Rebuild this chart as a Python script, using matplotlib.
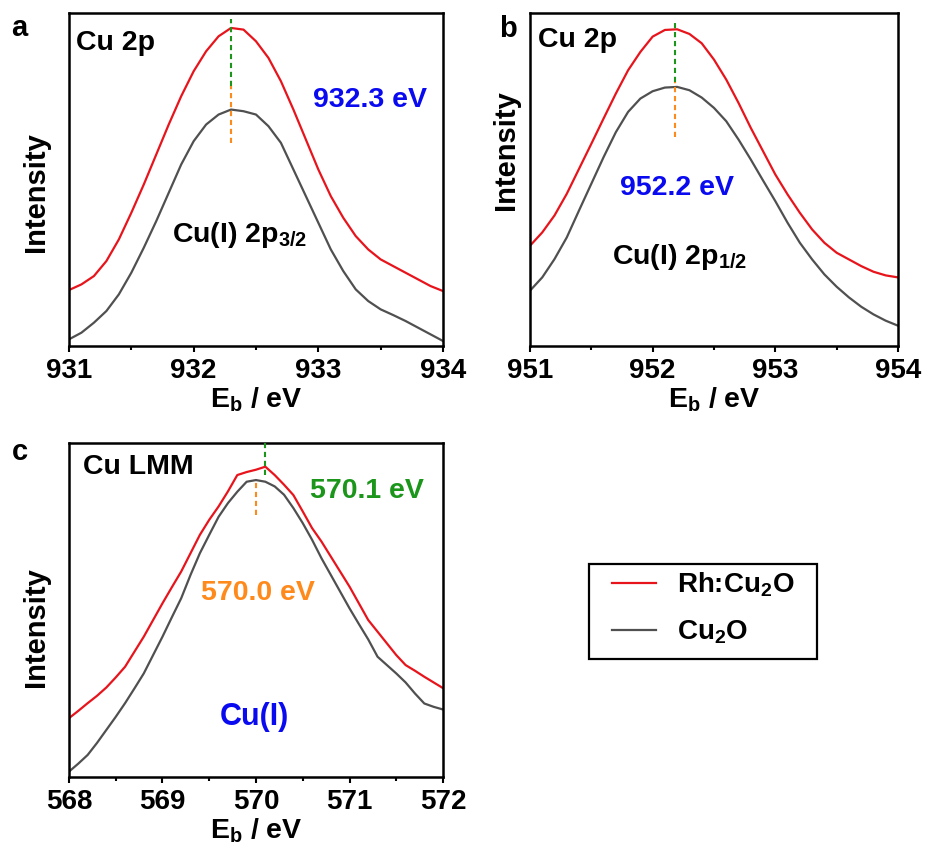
import numpy as np
import matplotlib
matplotlib.use('Agg')
import matplotlib.pyplot as plt
from matplotlib.ticker import MultipleLocator
from matplotlib.lines import Line2D
from matplotlib.patches import Rectangle

plt.rcParams['font.family'] = ['Liberation Sans', 'DejaVu Sans']
plt.rcParams['font.weight'] = 'bold'
plt.rcParams['axes.labelweight'] = 'bold'
plt.rcParams['mathtext.fontset'] = 'custom'
plt.rcParams['mathtext.rm'] = 'Liberation Sans:bold'
plt.rcParams['mathtext.it'] = 'Liberation Sans:bold'
plt.rcParams['mathtext.bf'] = 'Liberation Sans:bold'

# Cu 2p3/2 region (panel a)
e_a = np.linspace(931.0, 934.0, 31)
rh_a = [16.8, 18.5, 21.0, 25.5, 32.0, 40.0, 48.5, 57.5, 66.5, 75.0, 82.5,
        88.5, 93.0, 95.5, 95.0, 91.5, 86.5, 79.5, 71.0, 62.0, 53.0,
        45.0, 38.5, 33.0, 29.0, 26.0, 24.0, 22.0, 20.0, 18.0, 16.5]
cu_a = [2.0, 4.0, 7.0, 10.5, 15.5, 22.0, 29.5, 37.5, 46.0, 54.5, 61.5,
        66.5, 69.5, 71.0, 70.5, 69.5, 66.0, 61.0, 53.0, 45.0, 37.0,
        29.0, 22.5, 17.0, 13.5, 11.0, 9.3, 7.5, 5.5, 3.5, 1.5]

# Cu 2p1/2 region (panel b)
e_b = np.linspace(951.0, 954.0, 31)
rh_b = [30.1, 34.1, 39.2, 45.7, 53.2, 60.7, 68.3, 75.8, 82.8, 88.3, 92.9,
        94.9, 95.1, 93.7, 90.9, 86.0, 80.0, 73.0, 65.5, 58.5, 51.5,
        45.5, 40.0, 35.0, 31.0, 28.0, 26.0, 24.0, 22.3, 21.2, 20.6]
cu_b = [16.6, 20.6, 26.1, 32.6, 40.7, 48.7, 56.7, 64.2, 70.3, 74.3, 76.5,
        77.6, 77.8, 76.8, 74.6, 71.5, 67.5, 62.0, 56.0, 49.7, 43.5,
        37.0, 31.0, 26.0, 21.5, 17.8, 14.6, 11.8, 9.5, 7.6, 6.1]

# Cu LMM region (panel c)
e_c = np.linspace(568.0, 572.0, 41)
rh_c = [17.6, 19.8, 22.1, 24.3, 26.8, 29.8, 33.0, 37.5, 42.0, 47.0, 52.0,
        56.8, 61.5, 67.0, 72.5, 77.0, 81.0, 85.5, 90.4, 91.3, 92.0,
        92.9, 90.4, 87.5, 84.4, 79.5, 74.5, 70.5, 66.0, 61.5, 57.0,
        52.0, 47.0, 43.5, 40.0, 36.5, 33.5, 31.8, 30.0, 28.3, 26.6]
cu_c = [1.6, 4.0, 6.6, 10.2, 14.1, 18.0, 22.1, 26.5, 31.0, 36.5, 42.0,
        47.8, 53.5, 60.5, 67.0, 72.5, 77.9, 82.0, 85.4, 88.4, 88.9,
        88.4, 87.0, 84.5, 80.5, 76.0, 71.0, 65.5, 60.5, 55.5, 50.5,
        45.8, 41.2, 36.0, 33.5, 31.0, 28.3, 25.0, 22.0, 21.0, 20.2]

red = '#e8141c'
grey = '#505050'
green = '#1b961b'
orange = '#ff8a1c'
blue = '#0a0af0'

fig = plt.figure(figsize=(9.27, 8.59), dpi=100)
ax_a = fig.add_axes([0.0744, 0.5972, 0.4035, 0.3877])
ax_b = fig.add_axes([0.5717, 0.5972, 0.3970, 0.3877])
ax_c = fig.add_axes([0.0744, 0.0955, 0.4035, 0.3888])


def style(ax, xlim, ylab_x, ylab_y):
    ax.set_xlim(*xlim)
    ax.set_ylim(0, 100)
    ax.xaxis.set_major_locator(MultipleLocator(1))
    ax.xaxis.set_minor_locator(MultipleLocator(0.5))
    ax.set_yticks([])
    ax.tick_params(axis='x', which='major', direction='out', length=4,
                   width=1.5, labelsize=20, pad=4.5)
    ax.tick_params(axis='x', which='minor', direction='out', length=3,
                   width=1.5)
    for s in ax.spines.values():
        s.set_linewidth(1.8)
    ax.set_xlabel('E$_\\mathrm{b}$ / eV', fontsize=20.5, labelpad=1)
    ax.set_ylabel('Intensity', fontsize=21)
    ax.yaxis.set_label_coords(ylab_x, ylab_y)


dash = (0, (2.5, 1.8))

# panel a
ax_a.plot(e_a, rh_a, color=red, lw=1.6)
ax_a.plot(e_a, cu_a, color=grey, lw=1.6)
ax_a.plot([932.3, 932.3], [78, 98.2], color=green, lw=1.5, ls=dash, zorder=5)
ax_a.plot([932.3, 932.3], [61, 78], color=orange, lw=1.5, ls=dash, zorder=5)
ax_a.text(931.056, 88.9, 'Cu 2p', fontsize=20.5, va='baseline')
ax_a.text(933.414, 71.8, '932.3 eV', fontsize=20.5, color=blue, ha='center', va='baseline')
ax_a.text(931.826, 31.2, 'Cu(I) 2p$_{3/2}$', fontsize=20.5, va='baseline')
style(ax_a, (931, 934), -0.051, 0.461)

# panel b
ax_b.plot(e_b, rh_b, color=red, lw=1.6)
ax_b.plot(e_b, cu_b, color=grey, lw=1.6)
ax_b.plot([952.18, 952.18], [79.3, 97.9], color=green, lw=1.5, ls=dash, zorder=5)
ax_b.plot([952.18, 952.18], [62.7, 79.3], color=orange, lw=1.5, ls=dash, zorder=5)
ax_b.text(951.065, 89.8, 'Cu 2p', fontsize=20.5, va='baseline')
ax_b.text(952.198, 45.2, '952.2 eV', fontsize=20.5, color=blue, ha='center', va='baseline')
ax_b.text(951.668, 24.6, 'Cu(I) 2p$_{1/2}$', fontsize=20.5, va='baseline')
style(ax_b, (951, 954), -0.027, 0.587)

# panel c
ax_c.plot(e_c, rh_c, color=red, lw=1.6)
ax_c.plot(e_c, cu_c, color=grey, lw=1.6)
ax_c.plot([570.1, 570.1], [90.4, 100], color=green, lw=1.5, ls=dash, zorder=5)
ax_c.plot([570.0, 570.0], [78.4, 88.9], color=orange, lw=1.5, ls=dash, zorder=5)
ax_c.text(568.15, 90.7, 'Cu LMM', fontsize=20.5, va='baseline')
ax_c.text(571.187, 83.4, '570.1 eV', fontsize=20.5, color=green, ha='center', va='baseline')
ax_c.text(570.02, 53.0, '570.0 eV', fontsize=20.5, color=orange, ha='center', va='baseline')
ax_c.text(569.98, 15.6, 'Cu(I)', fontsize=22, color=blue, ha='center', va='baseline')
style(ax_c, (568, 572), -0.051, 0.449)

# panel letters
fig.text(19.5 / 927, 1 - 28.5 / 859, 'a', fontsize=21, ha='center', va='center')
fig.text(508 / 927, 1 - 29 / 859, 'b', fontsize=21, ha='center', va='center')
fig.text(19.5 / 927, 1 - 451.5 / 859, 'c', fontsize=21, ha='center', va='center')

# legend (frame drawn separately)
handles = [Line2D([], [], color=red, lw=1.6), Line2D([], [], color=grey, lw=1.6)]
fig.legend(handles, ['Rh:Cu$_2$O', 'Cu$_2$O'], loc='center',
           bbox_to_anchor=(703 / 927, 1 - 608.5 / 859), fontsize=20,
           frameon=False, handlelength=1.6, handletextpad=0.75,
           borderpad=0.2, labelspacing=0.7)
fig.patches.append(Rectangle((589 / 927, 1 - 659 / 859), 228 / 927, 95 / 859,
                             transform=fig.transFigure, fill=False,
                             edgecolor='black', linewidth=1.6))

fig.savefig('out.png', dpi=100)
